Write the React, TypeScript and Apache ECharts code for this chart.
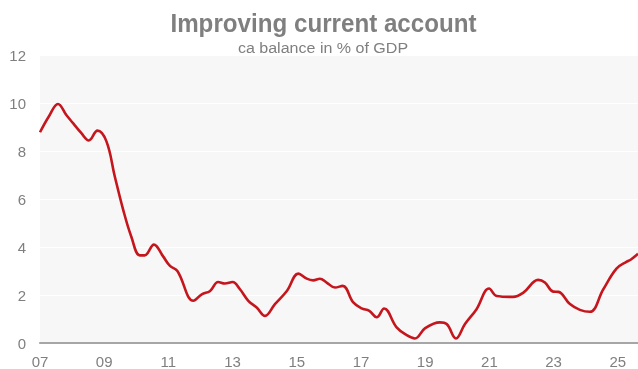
import React, { useEffect, useRef } from "react";
import * as echarts from "echarts";

const titleText = "Improving current account";
const subtitleText = "ca balance in % of GDP";

// fractional years
const years = [
  2007.0, 2007.28, 2007.56, 2007.82, 2008.03, 2008.29, 2008.52, 2008.79, 2009.07, 2009.33,
  2009.59, 2009.84, 2010.11, 2010.26, 2010.55, 2010.83, 2011.05, 2011.28, 2011.78, 2012.04,
  2012.3, 2012.55, 2012.76, 2013.0, 2013.23, 2013.49, 2013.75, 2014.01, 2014.32, 2014.69,
  2015.05, 2015.31, 2015.51, 2015.72, 2015.93, 2016.19, 2016.43, 2016.76, 2017.02, 2017.26,
  2017.49, 2017.72, 2018.11, 2018.42, 2018.68, 2019.0, 2019.46, 2019.67, 2019.96, 2020.24,
  2020.6, 2020.99, 2021.23, 2021.74, 2022.06, 2022.52, 2022.73, 2022.99, 2023.15, 2023.51,
  2023.82, 2024.13, 2024.55, 2024.96, 2025.28, 2025.4, 2025.63,
];
const balance = [
  8.78, 9.45, 9.96, 9.5, 9.16, 8.74, 8.44, 8.85, 8.4, 6.94,
  5.56, 4.45, 3.65, 3.65, 4.1, 3.62, 3.21, 3.0, 1.76, 2.03,
  2.17, 2.54, 2.48, 2.54, 2.24, 1.76, 1.48, 1.13, 1.62, 2.17,
  2.89, 2.68, 2.61, 2.68, 2.52, 2.31, 2.38, 1.69, 1.44, 1.34,
  1.07, 1.44, 0.65, 0.33, 0.19, 0.62, 0.86, 0.79, 0.19, 0.79,
  1.41, 2.27, 1.96, 1.92, 2.1, 2.63, 2.52, 2.14, 2.13, 1.62,
  1.38, 1.3, 2.24, 3.1, 3.39, 3.47, 3.72,
];
const yTicks = [0, 2, 4, 6, 8, 10, 12];

export default function App() {
  const ref = useRef<HTMLDivElement>(null);
  useEffect(() => {
    if (!ref.current) return;
    const chart = echarts.init(ref.current, undefined, { renderer: "svg" });
    const gray = "#7f7f7f";
    chart.setOption({
      animation: false,
      graphic: [
        {
          type: "text",
          x: 323.5,
          y: 23,
          scaleX: 0.93,
          style: {
            text: titleText,
            fontFamily: "Liberation Sans",
            fontSize: 26,
            fontWeight: "bold",
            fill: gray,
            textAlign: "center",
            textVerticalAlign: "middle",
          },
        },
        {
          type: "text",
          x: 323,
          y: 48,
          scaleX: 1.07,
          style: {
            text: subtitleText,
            fontFamily: "Liberation Sans",
            fontSize: 15,
            fill: gray,
            textAlign: "center",
            textVerticalAlign: "middle",
          },
        },
      ],
      grid: {
        left: 40,
        right: 0,
        top: 55,
        bottom: 25,
        show: true,
        backgroundColor: "#f7f7f7",
        borderWidth: 0,
      },
      xAxis: {
        type: "value",
        min: 2007,
        max: 2025.63,
        interval: 2,
        axisLine: { show: true, onZero: true, lineStyle: { color: "#a6a6a6", width: 2.2 } },
        axisTick: { show: false },
        splitLine: { show: false },
        axisLabel: {
          fontFamily: "Liberation Sans",
          fontSize: 15,
          color: gray,
          margin: 11,
          showMaxLabel: false,
          formatter: (v: number) => String(Math.round(v) % 100).padStart(2, "0"),
        },
      },
      yAxis: {
        type: "value",
        min: yTicks[0],
        max: yTicks[yTicks.length - 1],
        interval: 2,
        axisLine: { show: false },
        axisTick: { show: false },
        splitLine: { show: true, lineStyle: { color: "#ffffff", width: 1 } },
        axisLabel: { fontFamily: "Liberation Sans", fontSize: 15, color: gray, margin: 14 },
      },
      series: [
        {
          type: "line",
          data: years.map((y, i) => [y, balance[i]]),
          smooth: 0.4,
          showSymbol: false,
          lineStyle: { color: "#c4161c", width: 2.6 },
          z: 3,
        },
      ],
    });
    return () => chart.dispose();
  }, []);
  return (
    <div
      ref={ref}
      style={{ position: "fixed", left: 0, top: 0, width: 638, height: 369 }}
    />
  );
}
